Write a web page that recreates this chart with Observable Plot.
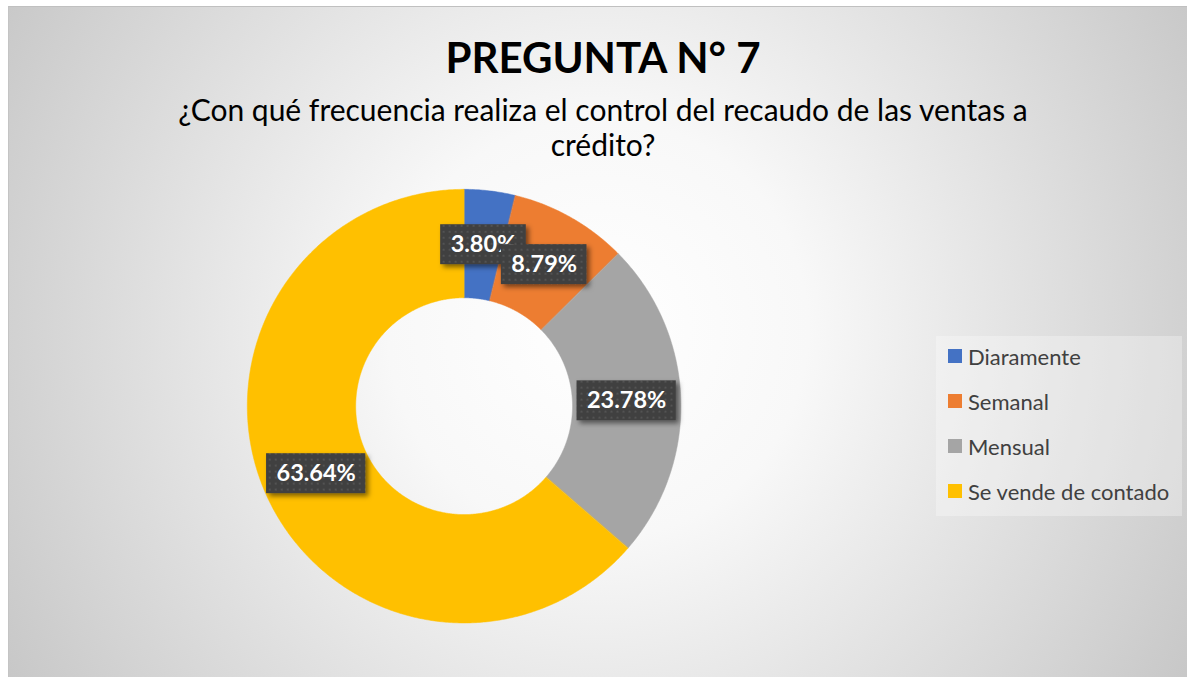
<!DOCTYPE html>
<html><head><meta charset="utf-8">
<script src="https://cdn.jsdelivr.net/npm/d3@7"></script>
<script src="https://cdn.jsdelivr.net/npm/@observablehq/plot@0.6"></script>
<style>
body{margin:0;background:#fff;font-family:Lato,sans-serif;}
#page{position:relative;width:1187px;height:677px;overflow:hidden;background:#fff;}
#chart{position:absolute;left:8px;top:6px;width:1179px;height:671px;
  background:radial-gradient(circle 700px at 50% 48%, #ffffff 0%, #f8f8f8 30%, #c6c6c6 100%);
  border-top:1px solid #c0c0c0;border-left:1px solid #c4c4c4;box-sizing:border-box;}
#plot{position:absolute;left:0;top:0;}
.title{position:absolute;left:0;width:1188px;text-align:center;color:#000;white-space:nowrap;line-height:1;}
#t1{top:29px;font-size:42px;font-weight:700;}
#t2{top:87px;font-size:30px;}
#t3{top:122px;font-size:30px;}
#legend{position:absolute;left:927px;top:329px;width:246px;height:180px;background:rgba(255,255,255,0.3);}
.row{position:absolute;left:12px;height:24px;display:flex;align-items:center;font-size:22px;color:#404040;white-space:nowrap;}
.sw{width:14px;height:14px;margin-right:6px;}
</style></head><body>
<div id="page"><div id="chart">
  <div id="plot"></div>
  <div class="title" id="t1"></div>
  <div class="title" id="t2"></div>
  <div class="title" id="t3"></div>
  <div id="legend"></div>
</div></div>
<script>
const categories = ["Diaramente", "Semanal", "Mensual", "Se vende de contado"];
const percentages = [3.80, 8.79, 23.78, 63.64];
const valueLabels = ["3.80%", "8.79%", "23.78%", "63.64%"];
const colors = ["#4472C4", "#ED7D31", "#A5A5A5", "#FFC000"];
const titleText = "PREGUNTA N° 7";
const subtitleLines = ["¿Con qué frecuencia realiza el control del recaudo de las ventas a", "crédito?"];

document.getElementById("t1").textContent = titleText;
document.getElementById("t2").textContent = subtitleLines[0];
document.getElementById("t3").textContent = subtitleLines[1];

// layout (pixels in the plot frame; center of donut at 0,0)
const W = 1179, H = 671, CX = 455, CY = 399;
const R_OUT = 217, R_IN = 108.5;

const total = d3.sum(percentages);
let cum = 0;
const slices = categories.map((name, i) => {
  const a0 = cum / total * 2 * Math.PI;
  cum += percentages[i];
  const a1 = cum / total * 2 * Math.PI;
  return {name, a0, a1, label: valueLabels[i]};
});

const pts = [];
for (const s of slices) {
  const n = Math.max(2, Math.ceil((s.a1 - s.a0) / (Math.PI / 360)));
  for (let k = 0; k <= n; k++) {
    const a = s.a0 + (s.a1 - s.a0) * k / n;
    pts.push({name: s.name, x: R_OUT * Math.sin(a), y: R_OUT * Math.cos(a)});
  }
  for (let k = n; k >= 0; k--) {
    const a = s.a0 + (s.a1 - s.a0) * k / n;
    pts.push({name: s.name, x: R_IN * Math.sin(a), y: R_IN * Math.cos(a)});
  }
}

const LABEL_SIZE = 23.5;
const ctx = document.createElement("canvas").getContext("2d");
ctx.font = `bold ${LABEL_SIZE}px Lato`;
const RM = (R_OUT + R_IN) / 2;
const labelData = slices.map(s => {
  const m = (s.a0 + s.a1) / 2;
  const x = RM * Math.sin(m), y = RM * Math.cos(m);
  const w = ctx.measureText(s.label).width + 20, h = 40;
  return {label: s.label, x, y, x1: x - w / 2, x2: x + w / 2, y1: y - h / 2, y2: y + h / 2};
});

const labelMarks = labelData.flatMap(d => [
  Plot.rect([d], {x1: "x1", x2: "x2", y1: "y1", y2: "y2", fill: "url(#dots)"}),
  Plot.text([d], {x: "x", y: "y", text: "label", fill: "white", fontWeight: "bold", fontSize: LABEL_SIZE, fontFamily: "Lato"})
]);

const svg = Plot.plot({
  width: W, height: H, margin: 0,
  style: {background: "transparent", overflow: "visible", fontFamily: "Lato"},
  x: {domain: [-CX, W - CX], axis: null},
  y: {domain: [-(H - CY), CY], axis: null},
  color: {domain: categories, range: colors},
  marks: [
    Plot.line(pts, {x: "x", y: "y", z: "name", fill: "name", stroke: "name", strokeWidth: 0.5, curve: "linear-closed"}),
    ...labelMarks
  ]
});

const defs = d3.select(svg).insert("defs", ":first-child");
const pat = defs.append("pattern").attr("id", "dots").attr("width", 6).attr("height", 6).attr("patternUnits", "userSpaceOnUse");
pat.append("rect").attr("width", 6).attr("height", 6).attr("fill", "#404040");
pat.append("rect").attr("x", 2).attr("y", 2).attr("width", 2).attr("height", 2).attr("fill", "#525252");
const f = defs.append("filter").attr("id", "shadow").attr("x", "-30%").attr("y", "-30%").attr("width", "160%").attr("height", "160%");
f.append("feDropShadow").attr("dx", 3).attr("dy", 3).attr("stdDeviation", 2.5).attr("flood-color", "#000").attr("flood-opacity", 0.5);
d3.select(svg).selectAll("g[aria-label=rect] rect").attr("filter", "url(#shadow)");

document.getElementById("plot").appendChild(svg);

const legend = d3.select("#legend");
categories.forEach((c, i) => {
  const row = legend.append("div").attr("class", "row").style("top", (8 + i * 45) + "px");
  row.append("div").attr("class", "sw").style("background", colors[i]);
  row.append("span").text(c);
});
</script>
</body></html>
